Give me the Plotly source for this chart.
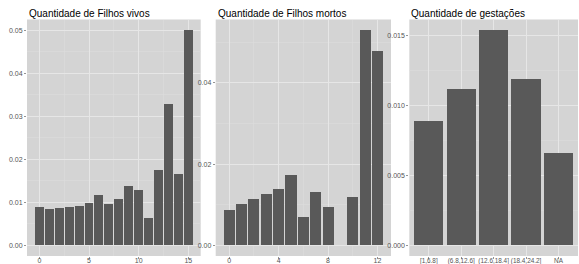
import plotly.graph_objects as go

# Data
vivos_x = list(range(16))
vivos_y = [0.0090, 0.0085, 0.0087, 0.0090, 0.0092, 0.0098, 0.0116, 0.0097,
           0.0108, 0.0138, 0.0128, 0.0063, 0.0174, 0.0329, 0.0166, 0.0500]

mortos_x = [0, 1, 2, 3, 4, 5, 6, 7, 8, 10, 11, 12]
mortos_y = [0.0086, 0.0101, 0.0115, 0.0126, 0.0139, 0.0173, 0.0070, 0.0131,
            0.0095, 0.0118, 0.0530, 0.0479]

gest_cat = ["[1,6.8]", "(6.8,12.6]", "(12.6,18.4]", "(18.4,24.2]", "NA"]
gest_y = [0.0089, 0.0112, 0.01538, 0.01192, 0.0066]

titles = ["Quantidade de Filhos vivos", "Quantidade de Filhos mortos", "Quantidade de gestações"]

W, H = 579, 264
BAR = "#595959"
PANEL = "#d4d4d4"
GRID = "#e6e6e6"
MINOR = "#dddddd"
TICKC = "#555555"

fig = go.Figure()
fig.add_trace(go.Bar(x=vivos_x, y=vivos_y, width=0.9, marker=dict(color=BAR, line=dict(width=0)),
                     xaxis="x", yaxis="y", hoverinfo="skip"))
fig.add_trace(go.Bar(x=mortos_x, y=mortos_y, width=0.9, marker=dict(color=BAR, line=dict(width=0)),
                     xaxis="x2", yaxis="y2", hoverinfo="skip"))
fig.add_trace(go.Bar(x=gest_cat, y=gest_y, width=0.9, marker=dict(color=BAR, line=dict(width=0)),
                     xaxis="x3", yaxis="y3", hoverinfo="skip"))

top_px, bot_px = 19.5, 256
ydom = [1 - bot_px / H, 1 - top_px / H]
xdoms = [(27, 200.7), (215.7, 391), (409.3, 578)]

def rng(lo, hi):
    e = (hi - lo) * 0.05
    return [lo - e, hi + e]

tickfont = dict(family="Liberation Sans, Arial, sans-serif", size=7, color=TICKC)

common_ax = dict(showline=False, zeroline=False, ticks="outside", ticklen=2, tickcolor="#666666",
                 tickwidth=0.7, tickfont=tickfont, gridcolor=GRID, gridwidth=1, showgrid=True,
                 tickangle=0, automargin=False, fixedrange=True)
xextra = dict(ticklabelstandoff=-4)

layout = dict(
    width=W, height=H, margin=dict(l=0, r=0, t=0, b=0),
    paper_bgcolor="white", plot_bgcolor=PANEL, showlegend=False, bargap=0,
    font=dict(family="Liberation Sans, Arial, sans-serif"),
)

# Panel 1
layout["xaxis"] = dict(common_ax, **xextra, domain=[xdoms[0][0] / W, xdoms[0][1] / W], anchor="y",
                       range=rng(-0.45, 15.45), tickvals=[0, 5, 10, 15], ticktext=["0", "5", "10", "15"],
                       minor=dict(tickvals=[-2.5, 2.5, 7.5, 12.5], showgrid=True, gridcolor=MINOR, gridwidth=0.5, ticks=""))
layout["yaxis"] = dict(common_ax, domain=ydom, anchor="x", range=rng(0, 0.05),
                       tickvals=[0, 0.01, 0.02, 0.03, 0.04, 0.05],
                       ticktext=["0.00", "0.01", "0.02", "0.03", "0.04", "0.05"],
                       minor=dict(tickvals=[0.005, 0.015, 0.025, 0.035, 0.045], showgrid=True, gridcolor=MINOR, gridwidth=0.5, ticks=""))
# Panel 2
layout["xaxis2"] = dict(common_ax, **xextra, domain=[xdoms[1][0] / W, xdoms[1][1] / W], anchor="y2",
                        range=rng(-0.45, 12.45), tickvals=[0, 4, 8, 12], ticktext=["0", "4", "8", "12"],
                        minor=dict(tickvals=[2, 6, 10], showgrid=True, gridcolor=MINOR, gridwidth=0.5, ticks=""))
layout["yaxis2"] = dict(common_ax, domain=ydom, anchor="x2", range=rng(0, 0.053),
                        tickvals=[0, 0.02, 0.04], ticktext=["0.00", "0.02", "0.04"],
                        minor=dict(tickvals=[0.01, 0.03, 0.05], showgrid=True, gridcolor=MINOR, gridwidth=0.5, ticks=""))
# Panel 3
layout["xaxis3"] = dict(common_ax, **xextra, domain=[xdoms[2][0] / W, xdoms[2][1] / W], anchor="y3",
                        type="category", range=[-0.6, 4.6],
                        tickfont=dict(tickfont, size=6.4))
layout["yaxis3"] = dict(common_ax, domain=ydom, anchor="x3", range=rng(0, 0.01538),
                        tickvals=[0, 0.005, 0.01, 0.015], ticktext=["0.000", "0.005", "0.010", "0.015"],
                        minor=dict(tickvals=[0.0025, 0.0075, 0.0125], showgrid=True, gridcolor=MINOR, gridwidth=0.5, ticks=""))

anns = []
for (x0, _), t in zip(xdoms, titles):
    anns.append(dict(text=t, x=x0 / W, y=1 - 13.5 / H, xref="paper", yref="paper",
                     xanchor="left", yanchor="middle", showarrow=False,
                     font=dict(size=10, color="black", family="Liberation Sans, Arial, sans-serif")))
layout["annotations"] = anns

fig.update_layout(**layout)
fig.write_html("out.html",
               config={"displayModeBar": False, "staticPlot": True},
               post_script="document.body.style.margin='0';document.body.style.padding='0';"
                           "document.documentElement.style.overflow='hidden';")
